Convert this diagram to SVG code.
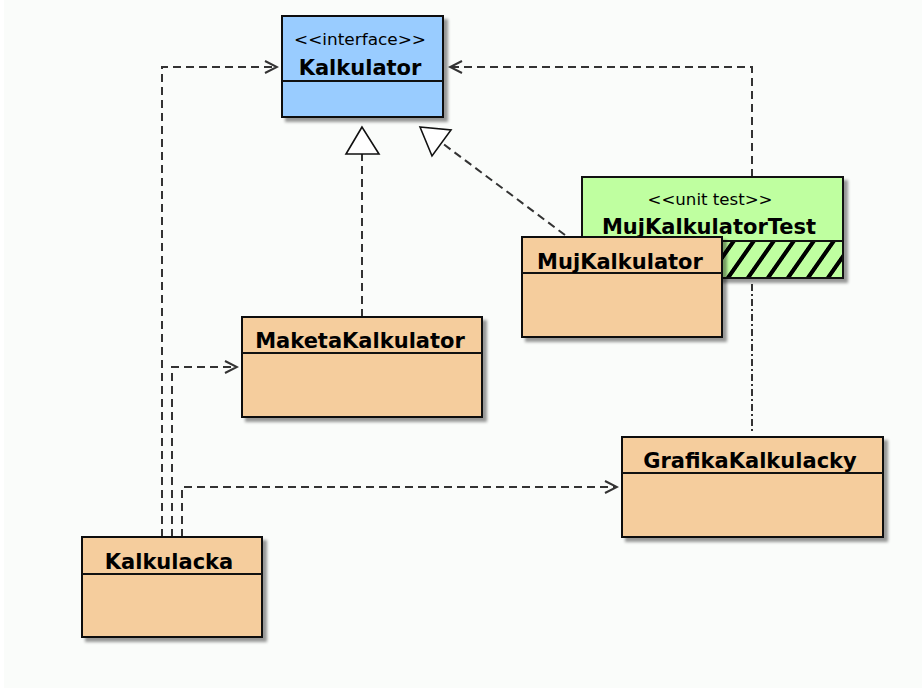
<svg xmlns="http://www.w3.org/2000/svg" width="922" height="688" viewBox="0 0 922 688">
<style>
.box{stroke:#111;stroke-width:2}
.div{stroke:#111;stroke-width:2}
.name{font-family:"DejaVu Sans",sans-serif;font-weight:bold;font-size:21px;fill:#000;text-anchor:middle}
.st{font-family:"DejaVu Sans",sans-serif;font-size:16px;fill:#000;text-anchor:middle}
.dep{fill:none;stroke:#333;stroke-width:2;stroke-dasharray:8,5}
.dd{fill:none;stroke:#333;stroke-width:2;stroke-dasharray:7,3,2,3}
.tri{fill:#fff;stroke:#111;stroke-width:1.6;stroke-linejoin:miter}
.blue{fill:#99ccff}
.tan{fill:#f5cd9d}
.green{fill:#bfffa0}
</style>
<defs>
<filter id="sh" x="-10%" y="-10%" width="130%" height="130%">
<feDropShadow dx="4" dy="4" stdDeviation="1.8" flood-color="#000" flood-opacity="0.4"/>
</filter>
<marker id="open" markerWidth="16" markerHeight="16" viewBox="0 0 16 16" refX="14" refY="8" orient="auto" markerUnits="userSpaceOnUse">
<path d="M2,2 L14,8 L2,14" fill="none" stroke="#333" stroke-width="2"/>
</marker>
<pattern id="hatch" patternUnits="userSpaceOnUse" width="20" height="40" patternTransform="skewX(-35)">
<rect width="20" height="40" fill="#bfffa0"/>
<rect x="0" y="0" width="5" height="40" fill="#000"/>
</pattern>
</defs>
<rect width="922" height="688" fill="#fff"/>
<rect x="4" y="0" width="918" height="688" fill="#fafcfa"/>
<g id="connectors">
<path class="dep" d="M162,537 V67 H277" marker-end="url(#open)"/>
<path class="dep" d="M172,537 V367 H237" marker-end="url(#open)"/>
<path class="dep" d="M182,537 V487 H617" marker-end="url(#open)"/>
<path class="dep" d="M752,177 V67 H450" marker-end="url(#open)"/>
<path class="dd" d="M752,284 V432"/>
<path class="dep" d="M362,317 V154"/>
<polygon class="tri" points="362,127 346,154 379,154"/>
<path class="dep" d="M565,235 L442,143"/>
<polygon class="tri" points="420,127 451,130 432,156"/>
</g>
<g id="Kalkulator">
<rect class="box blue" x="282" y="16" width="161" height="101" filter="url(#sh)"/>
<line class="div" x1="282" y1="81" x2="443" y2="81"/>
<text class="st" x="360" y="45" textLength="132" lengthAdjust="spacingAndGlyphs">&lt;&lt;interface&gt;&gt;</text>
<text class="name" x="360" y="75">Kalkulator</text>
</g>
<g id="MujKalkulatorTest">
<rect class="box green" x="582" y="177" width="261" height="101" filter="url(#sh)"/>
<rect x="583" y="242" width="259" height="35" fill="url(#hatch)"/>
<line class="div" x1="582" y1="241" x2="843" y2="241"/>
<rect x="582" y="177" width="261" height="101" fill="none" stroke="#111" stroke-width="2"/>
<text class="st" x="710" y="205" textLength="125" lengthAdjust="spacingAndGlyphs">&lt;&lt;unit test&gt;&gt;</text>
<text class="name" x="709" y="234">MujKalkulatorTest</text>
</g>
<g id="MujKalkulator">
<rect class="box tan" x="522" y="237" width="200" height="100" filter="url(#sh)"/>
<line class="div" x1="522" y1="273" x2="722" y2="273"/>
<text class="name" x="620" y="269">MujKalkulator</text>
</g>
<g id="MaketaKalkulator">
<rect class="box tan" x="242" y="317" width="240" height="100" filter="url(#sh)"/>
<line class="div" x1="242" y1="353" x2="482" y2="353"/>
<text class="name" x="360" y="348">MaketaKalkulator</text>
</g>
<g id="GrafikaKalkulacky">
<rect class="box tan" x="622" y="437" width="261" height="100" filter="url(#sh)"/>
<line class="div" x1="622" y1="473" x2="883" y2="473"/>
<text class="name" x="750" y="468">GrafikaKalkulacky</text>
</g>
<g id="Kalkulacka">
<rect class="box tan" x="82" y="537" width="180" height="100" filter="url(#sh)"/>
<line class="div" x1="82" y1="574" x2="262" y2="574"/>
<text class="name" x="169" y="569">Kalkulacka</text>
</g>
</svg>
